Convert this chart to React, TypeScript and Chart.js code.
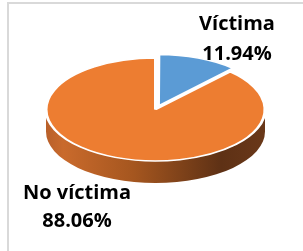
import React, { useEffect, useRef } from "react";
import { Chart, registerables } from "chart.js";

Chart.register(...registerables);

// ---- data ----
const categories = ["Víctima", "No víctima"];
const values = [11.94, 88.06];
const percentLabels = ["11.94%", "88.06%"];
const sliceColors = ["#5B9BD5", "#ED7D31"];
const explodeOffsets = [32, 0];

// ---- style ----
const TILT = 0.47;
const DEPTH = 22;
const FONT = "bold 20px 'Open Sans'";
const labelLayout = [
  { x: 237, y: 30, gap: 30 },
  { x: 77, y: 199, gap: 28 },
];

function sideRanges(s: number, e: number): [number, number][] {
  const out: [number, number][] = [];
  for (const k of [-2, 0, 2]) {
    const lo = Math.max(s, k * Math.PI);
    const hi = Math.min(e, k * Math.PI + Math.PI);
    if (hi > lo) out.push([lo, hi]);
  }
  return out;
}

const pie3d = {
  id: "pie3d",
  beforeDatasetsDraw(chart: any) {
    const ctx: CanvasRenderingContext2D = chart.ctx;
    const meta = chart.getDatasetMeta(0);
    const ctrl = meta.controller;
    const arcs = meta.data;
    if (!arcs.length) return;
    const cx = arcs[0].x;
    const cy = arcs[0].y;
    const R = ctrl.outerRadius;
    // keep exploded slices at the same radius
    arcs.forEach((a: any) => {
      const off = (a.options.offset || 0) / 4;
      const circ = a.endAngle - a.startAngle;
      const fix = 1 - Math.sin(Math.min(Math.PI, circ));
      a.outerRadius = R - off * fix;
    });
    ctx.save();
    const grad = ctx.createLinearGradient(cx - R, 0, cx + R, 0);
    grad.addColorStop(0, "#b9602a");
    grad.addColorStop(0.08, "#c96a2c");
    grad.addColorStop(0.4, "#a5561f");
    grad.addColorStop(0.8, "#5e3115");
    grad.addColorStop(1, "#6a3819");
    arcs.forEach((a: any) => {
      const off = (a.options.offset || 0) / 4;
      const mid = (a.startAngle + a.endAngle) / 2;
      const dx = Math.cos(mid) * off;
      const dy = Math.sin(mid) * off * TILT;
      for (const [a1, a2] of sideRanges(a.startAngle, a.endAngle)) {
        ctx.beginPath();
        ctx.ellipse(cx + dx, cy + dy, R, R * TILT, 0, a1, a2, false);
        ctx.ellipse(cx + dx, cy + dy + DEPTH, R, R * TILT, 0, a2, a1, true);
        ctx.closePath();
        ctx.fillStyle = grad;
        ctx.fill();
      }
    });
    ctx.restore();
    ctx.save();
    ctx.translate(cx, cy);
    ctx.scale(1, TILT);
    ctx.translate(-cx, -cy);
  },
  afterDatasetsDraw(chart: any) {
    chart.ctx.restore();
  },
  afterDraw(chart: any) {
    const ctx: CanvasRenderingContext2D = chart.ctx;
    ctx.save();
    ctx.font = FONT;
    ctx.fillStyle = "#000000";
    ctx.textAlign = "center";
    ctx.textBaseline = "alphabetic";
    categories.forEach((c, i) => {
      const p = labelLayout[i];
      ctx.fillText(c, p.x, p.y);
      ctx.fillText(percentLabels[i], p.x, p.y + p.gap);
    });
    ctx.restore();
  },
};

export default function App() {
  const ref = useRef<HTMLCanvasElement>(null);
  useEffect(() => {
    if (!ref.current) return;
    const chart = new Chart(ref.current, {
      type: "pie",
      data: {
        labels: categories,
        datasets: [
          {
            data: values,
            backgroundColor: sliceColors,
            borderColor: "#ffffff",
            borderWidth: 3,
            offset: explodeOffsets,
            clip: false,
          } as any,
        ],
      },
      options: {
        responsive: false,
        devicePixelRatio: 1,
        animation: false,
        radius: 109.5,
        layout: { padding: { left: 8, right: 0, top: 0, bottom: 32 } },
        plugins: { legend: { display: false }, tooltip: { enabled: false } },
        events: [],
      } as any,
      plugins: [pie3d],
    });
    (document as any).fonts?.load?.(FONT).then(() => chart.draw()).catch(() => {});
    return () => chart.destroy();
  }, []);
  return (
    <div style={{ position: "fixed", left: 0, top: 0, width: 303, height: 251, overflow: "hidden", background: "#fff" }}>
      <div style={{ position: "absolute", left: 7, top: 2, width: 400, height: 400, borderLeft: "2px solid #d9d9d9", borderTop: "2px solid #d9d9d9" }} />
      <canvas ref={ref} width={303} height={251} style={{ position: "absolute", left: 0, top: 0, width: 303, height: 251 }} />
    </div>
  );
}
